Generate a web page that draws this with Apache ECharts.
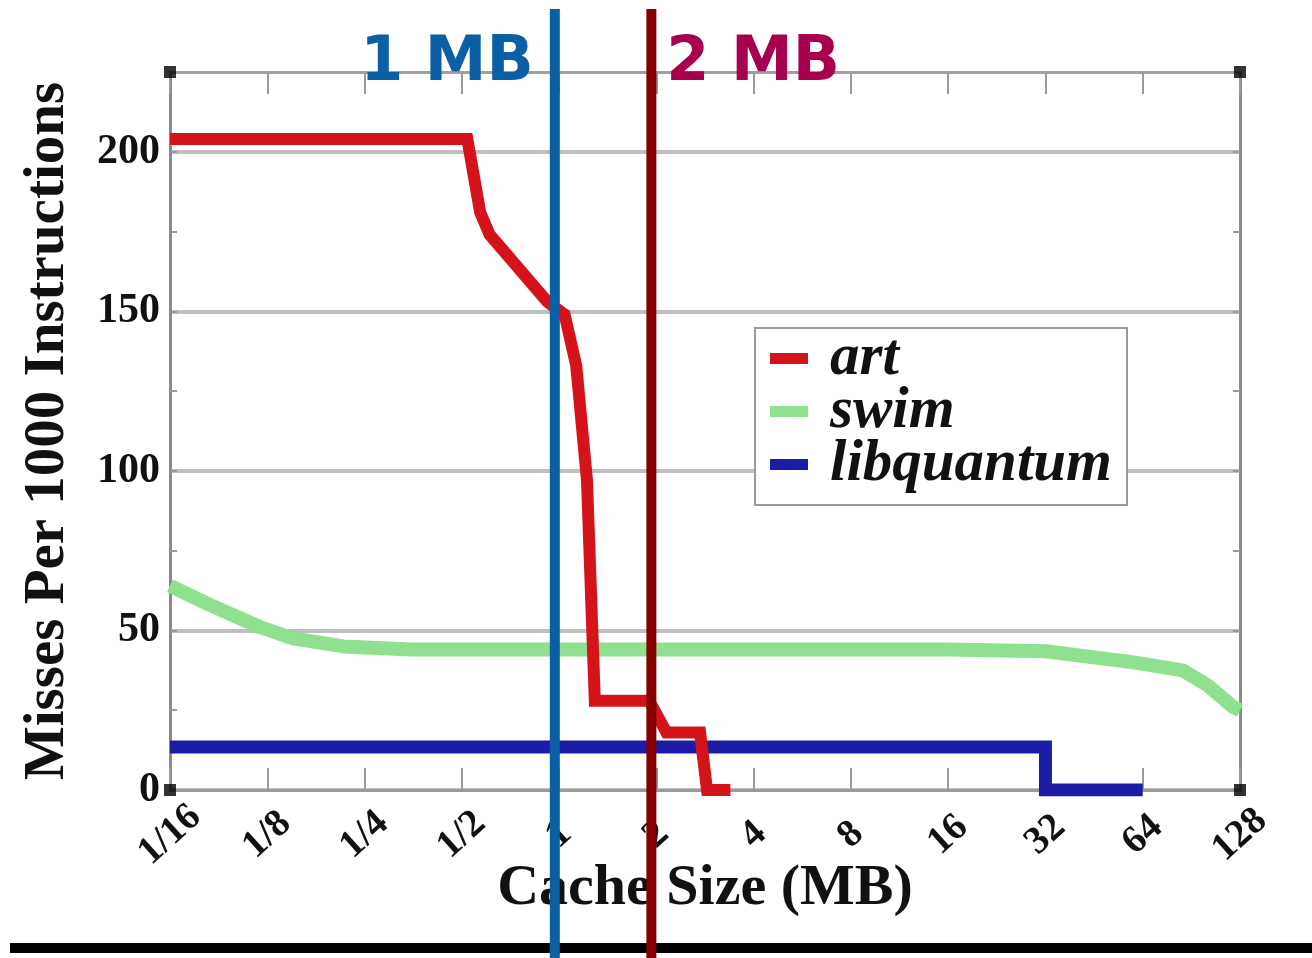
<!DOCTYPE html>
<html>
<head>
<meta charset="utf-8">
<script src="https://cdn.jsdelivr.net/npm/echarts@6/dist/echarts.min.js"></script>
<style>
html,body{margin:0;padding:0;background:#fff;}
#chart{width:1312px;height:958px;}
</style>
</head>
<body>
<div id="chart"></div>
<script>
// ---- data (cache size in MB, misses per 1000 instructions) ----
const tickLabels = ['1/16','1/8','1/4','1/2','1','2','4','8','16','32','64','128'];

const artMB   = [0.0625, 0.52, 0.57, 0.61, 0.92, 1.04, 1.13, 1.22, 1.27, 1.29, 1.9, 2.15, 2.73, 2.87, 3.39];
const artMPKI = [204,    204,  181,  174,  153,  149,  133,  97,   47,   28,   28,  18,   18,   0,    0];

const swimMB   = [0.0625, 0.083, 0.119, 0.15, 0.215, 0.35, 0.5, 1,  2,  4,  8,  16, 32,   60, 85,   101, 122, 128];
const swimMPKI = [64,     58,    51,    47.5, 45,    44,   44,  44, 44, 44, 44, 44, 43.5, 40, 37.5, 33,  26,  25];

const libqMB   = [0.0625, 32,   32, 64];
const libqMPKI = [13.5,   13.5, 0,  0];

const yLabelValues = [0, 50, 100, 150, 200];

const annotations = [
  {text: '1 MB', mb: 0.97, line: '#0b5fa5', color: '#0b5fa5', side: 'left'},
  {text: '2 MB', mb: 1.93, line: '#870000', color: '#a8004e', side: 'right'}
];

// ---- chart ----
const chart = echarts.init(document.getElementById('chart'), null, {renderer: 'canvas'});
const toXY = (mb, v) => mb.map((m, i) => [Math.log2(m), v[i]]);
const serif = 'Liberation Serif';
const X_MIN = -4, X_MAX = 7, Y_MIN = 0, Y_MAX = 225;

const option = {
  animation: false,
  backgroundColor: '#fff',
  grid: {left: 170, right: 72, top: 72, bottom: 168, containLabel: false},
  legend: {
    data: ['art', 'swim', 'libquantum'],
    orient: 'vertical',
    left: 755, top: 328,
    padding: [1, 15, 11, 15],
    itemGap: -6,
    itemWidth: 38, itemHeight: 11,
    icon: 'rect',
    backgroundColor: '#fff',
    borderColor: '#9a9a9a', borderWidth: 2,
    textStyle: {fontFamily: serif, fontStyle: 'italic', fontWeight: 'bold', fontSize: 59,
                color: '#111', padding: [0, 0, 0, 17]}
  },
  xAxis: [
    {
      type: 'value', position: 'bottom', min: X_MIN, max: X_MAX, interval: 1,
      name: 'Cache Size (MB)', nameLocation: 'middle', nameGap: 70, nameMoveOverlap: false,
      nameTextStyle: {fontFamily: serif, fontWeight: 'bold', fontSize: 58, color: '#111'},
      axisLine: {onZero: false, lineStyle: {color: '#9a9a9a', width: 3}},
      axisTick: {inside: true, length: 22, lineStyle: {color: '#9a9a9a', width: 2}},
      axisLabel: {
        rotate: 42, align: 'center', verticalAlign: 'middle', margin: 45,
        fontFamily: serif, fontWeight: 'bold', fontSize: 39, color: '#111',
        formatter: v => tickLabels[Math.round(v - X_MIN)]
      },
      splitLine: {show: false}
    },
    {
      type: 'value', position: 'top', min: X_MIN, max: X_MAX, interval: 1,
      axisLine: {onZero: false, lineStyle: {color: '#a0a0a0', width: 3}},
      axisTick: {inside: true, length: 22, lineStyle: {color: '#9a9a9a', width: 2}},
      axisLabel: {show: false},
      splitLine: {show: false}
    }
  ],
  yAxis: [
    {
      type: 'value', position: 'left', min: Y_MIN, max: Y_MAX, interval: 25,
      name: 'Misses Per 1000 Instructions', nameLocation: 'middle', nameGap: 93, nameRotate: 90,
      nameTextStyle: {fontFamily: serif, fontWeight: 'bold', fontSize: 57, color: '#111'},
      axisLine: {show: true, onZero: false, lineStyle: {color: '#8a8a8a', width: 3}},
      axisTick: {show: true, inside: true, length: 7, lineStyle: {color: '#9a9a9a', width: 2}},
      axisLabel: {
        margin: 10, fontFamily: serif, fontWeight: 'bold', fontSize: 42, color: '#111',
        formatter: v => (yLabelValues.indexOf(v) >= 0 ? String(v) : '')
      },
      splitLine: {show: true, lineStyle: {color: ['#bfbfbf', 'rgba(0,0,0,0)'], width: 4}}
    },
    {
      type: 'value', position: 'right', min: Y_MIN, max: Y_MAX, interval: 25,
      axisLine: {show: true, onZero: false, lineStyle: {color: '#8a8a8a', width: 3}},
      axisTick: {show: true, inside: true, length: 7, lineStyle: {color: '#9a9a9a', width: 2}},
      axisLabel: {show: false},
      splitLine: {show: false}
    }
  ],
  series: [
    {
      name: 'libquantum', type: 'line', data: toXY(libqMB, libqMPKI),
      showSymbol: false, symbol: 'none', color: '#1c1ca6',
      lineStyle: {width: 13, color: '#1c1ca6', cap: 'butt', join: 'miter'}, z: 3
    },
    {
      name: 'swim', type: 'line', data: toXY(swimMB, swimMPKI),
      showSymbol: false, symbol: 'none', color: '#8fe08f',
      lineStyle: {width: 14, color: '#8fe08f'}, z: 4
    },
    {
      name: 'art', type: 'line', data: toXY(artMB, artMPKI),
      showSymbol: false, symbol: 'none', color: '#d4141a',
      lineStyle: {width: 12, color: '#d4141a', join: 'miter'}, z: 5
    },
    {
      name: 'corners', type: 'scatter', symbol: 'rect', symbolSize: 12,
      data: [[X_MIN, Y_MIN], [X_MAX, Y_MIN], [X_MIN, Y_MAX], [X_MAX, Y_MAX]],
      itemStyle: {color: '#000'}, silent: true, clip: false, z: 6
    }
  ]
};
chart.setOption(option);

// annotation lines & labels, placed with the axis scale
const graphics = [
  {type: 'rect', shape: {x: 10, y: 943, width: 1302, height: 10}, style: {fill: '#000'}, z: 90}
];
annotations.forEach(a => {
  const px = chart.convertToPixel({xAxisIndex: 0}, Math.log2(a.mb));
  graphics.push({
    type: 'line', shape: {x1: px, y1: 9, x2: px, y2: 958},
    style: {stroke: a.line, lineWidth: 10}, z: 100
  });
  graphics.push({
    type: 'text', x: a.side === 'left' ? px - 21 : px + 15, y: 64, z: 101,
    style: {text: a.text, fill: a.color, font: 'bold 62px "DejaVu Sans"',
            align: a.side === 'left' ? 'right' : 'left', verticalAlign: 'middle'}
  });
});
chart.setOption({graphic: graphics});
</script>
</body>
</html>
